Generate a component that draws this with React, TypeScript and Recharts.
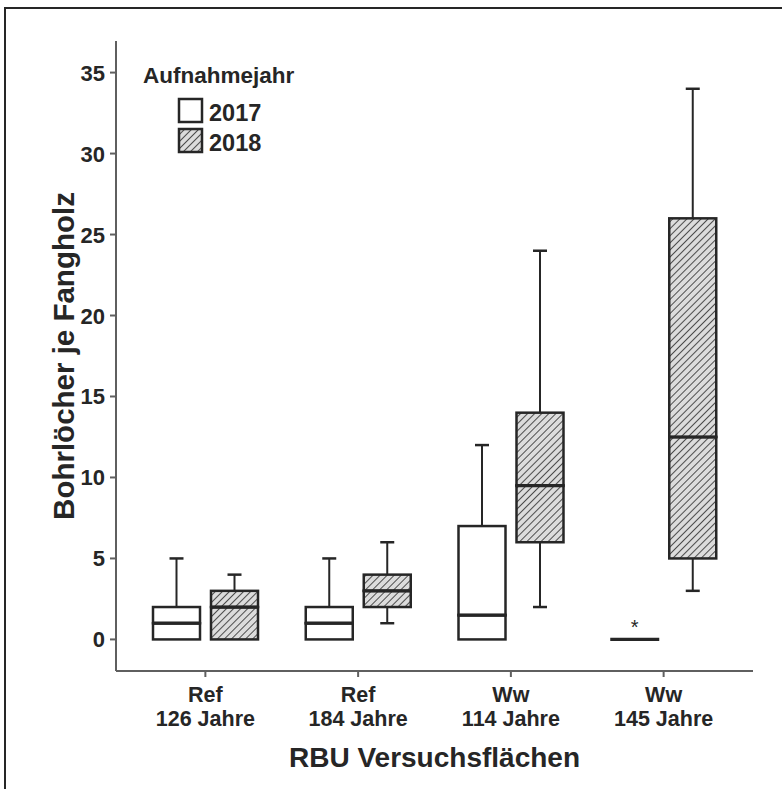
import { Bar, ComposedChart, Legend, XAxis, YAxis } from 'recharts';

// Bohrlöcher je Fangholz, Boxplots nach Versuchsfläche und Aufnahmejahr
const siteNames = ['Ref', 'Ref', 'Ww', 'Ww'];
const siteAges = ['126 Jahre', '184 Jahre', '114 Jahre', '145 Jahre'];

const min2017 = [0, 0, 0, 0];
const q1_2017 = [0, 0, 0, 0];
const med2017 = [1, 1, 1.5, 0];
const q3_2017 = [2, 2, 7, 0];
const max2017 = [5, 5, 12, 0];
const outlier2017 = [null, null, null, 1];

const min2018 = [0, 1, 2, 3];
const q1_2018 = [0, 2, 6, 5];
const med2018 = [2, 3, 9.5, 12.5];
const q3_2018 = [3, 4, 14, 26];
const max2018 = [4, 6, 24, 34];

const yTicks = [0, 5, 10, 15, 20, 25, 30, 35];
const legendYears = ['2017', '2018'];

const INK = '#262626';
const FRAME = '#5f5f5f';
const FONT = '"Liberation Sans", Arial, sans-serif';

// stacked segments: base (min) -> lower whisker -> lower box -> upper box -> upper whisker -> gap to outlier
const data = siteNames.map((name, i) => ({
  site: `${name} ${siteAges[i]}`,
  a_base: min2017[i],
  a_w1: q1_2017[i] - min2017[i],
  a_b1: med2017[i] - q1_2017[i],
  a_b2: q3_2017[i] - med2017[i],
  a_w2: max2017[i] - q3_2017[i],
  a_gap: outlier2017[i] != null ? (outlier2017[i] as number) - max2017[i] : 0,
  a_out: outlier2017[i],
  b_base: min2018[i],
  b_w1: q1_2018[i] - min2018[i],
  b_b1: med2018[i] - q1_2018[i],
  b_b2: q3_2018[i] - med2018[i],
  b_w2: max2018[i] - q3_2018[i],
}));

const whisker = (cap: 'top' | 'bottom') => (props: any) => {
  const { x, y, width, height } = props;
  if (!height || height <= 0) return <g />;
  const cx = x + width / 2;
  const capY = cap === 'top' ? y : y + height;
  return (
    <g>
      <line x1={cx} x2={cx} y1={y} y2={y + height} stroke={INK} strokeWidth={2} />
      <line x1={cx - 7} x2={cx + 7} y1={capY} y2={capY} stroke={INK} strokeWidth={2.5} />
    </g>
  );
};

// upper box half carries the median line on its bottom edge
const boxPart = (fill: string, withMedian: boolean) => (props: any) => {
  const { x, y, width, height } = props;
  const h = height > 0 ? height : 0;
  return (
    <g>
      {h > 0 && <rect x={x} y={y} width={width} height={h} fill={fill} stroke={INK} strokeWidth={2.5} />}
      {withMedian && (
        <line x1={x - 1} x2={x + width + 1} y1={y + h} y2={y + h} stroke={INK} strokeWidth={3.2} />
      )}
    </g>
  );
};

const outlierStar = (props: any) => {
  const { x, y, width, payload } = props;
  if (payload?.a_out == null) return <g />;
  return (
    <text x={x + width / 2} y={y + 11} textAnchor="middle" fontSize={20} fontFamily={FONT} fill={INK}>
      *
    </text>
  );
};

const SiteTick = (props: any) => {
  const { x, y, payload } = props;
  const i = payload.index;
  return (
    <g>
      <text x={x} y={y + 23} textAnchor="middle" fontSize={21.5} fontWeight="bold" fontFamily={FONT} fill={INK}>
        {siteNames[i]}
      </text>
      <text x={x} y={y + 47} textAnchor="middle" fontSize={21.5} fontWeight="bold" fontFamily={FONT} fill={INK}>
        {siteAges[i]}
      </text>
    </g>
  );
};

const ValueTick = (props: any) => {
  const { x, y, payload } = props;
  return (
    <text x={x} y={y + 8} textAnchor="end" fontSize={22} fontWeight="bold" fontFamily={FONT} fill={INK}>
      {payload.value}
    </text>
  );
};

const HatchPattern = ({ id }: { id: string }) => (
  <pattern id={id} width={5} height={5} patternUnits="userSpaceOnUse" patternTransform="rotate(45)">
    <rect width={5} height={5} fill="#dcdcdc" />
    <line x1={0} y1={0} x2={0} y2={5} stroke="#333333" strokeWidth={1.7} />
  </pattern>
);

const YearLegend = () => (
  <svg width={220} height={100} style={{ display: 'block' }}>
    <defs>
      <HatchPattern id="hatchLegend" />
    </defs>
    <text x={3} y={23} fontSize={22.5} fontWeight="bold" fontFamily={FONT} fill={INK}>
      Aufnahmejahr
    </text>
    {legendYears.map((yr, i) => (
      <g key={yr}>
        <rect
          x={39}
          y={39 + i * 30}
          width={23}
          height={23}
          fill={i === 0 ? '#ffffff' : 'url(#hatchLegend)'}
          stroke={INK}
          strokeWidth={2.5}
        />
        <text x={69} y={61 + i * 30} fontSize={23.5} fontWeight="bold" fontFamily={FONT} fill={INK}>
          {yr}
        </text>
      </g>
    ))}
  </svg>
);

export default function App() {
  return (
    <div style={{ position: 'absolute', left: 0, top: 0, width: 782, height: 789, background: '#fff' }}>
      <div
        style={{
          position: 'absolute',
          left: 4,
          top: 7,
          right: 0,
          bottom: 0,
          borderLeft: `2px solid ${INK}`,
          borderTop: `2px solid ${INK}`,
        }}
      />
      <ComposedChart
        width={782}
        height={789}
        data={data}
        margin={{ top: 41, right: 29, left: 56, bottom: 58 }}
        barGap={11}
        barSize={47}
      >
        <defs>
          <HatchPattern id="hatch" />
        </defs>
        <XAxis
          dataKey="site"
          type="category"
          height={60}
          padding={{ left: 13, right: 13 }}
          tick={<SiteTick />}
          tickSize={6}
          tickMargin={2}
          interval={0}
          axisLine={{ stroke: FRAME, strokeWidth: 2 }}
          tickLine={{ stroke: FRAME, strokeWidth: 2 }}
          label={(p: any) => {
            const vb = p.viewBox;
            return (
              <text
                x={vb.x + vb.width / 2}
                y={767}
                textAnchor="middle"
                fontSize={28}
                fontWeight="bold"
                fontFamily={FONT}
                fill={INK}
              >
                RBU Versuchsflächen
              </text>
            );
          }}
        />
        <XAxis xAxisId="top" dataKey="site" orientation="top" height={0} tick={false} tickLine={false} axisLine={{ stroke: FRAME, strokeWidth: 2 }} />
        <YAxis
          width={60}
          type="number"
          domain={[-1.95, 36.95]}
          allowDataOverflow
          ticks={yTicks}
          tickSize={6}
          tickMargin={5}
          tick={<ValueTick />}
          axisLine={{ stroke: FRAME, strokeWidth: 2 }}
          tickLine={{ stroke: FRAME, strokeWidth: 2 }}
          label={(p: any) => {
            const vb = p.viewBox;
            const cx = 74;
            const cy = vb.y + vb.height / 2;
            return (
              <text
                x={cx}
                y={cy}
                transform={`rotate(-90, ${cx}, ${cy})`}
                textAnchor="middle"
                fontSize={29.5}
                fontWeight="bold"
                fontFamily={FONT}
                fill={INK}
              >
                Bohrlöcher je Fangholz
              </text>
            );
          }}
        />
        <YAxis yAxisId="right" orientation="right" width={0} tick={false} tickLine={false} axisLine={{ stroke: FRAME, strokeWidth: 2 }} />

        <Bar dataKey="a_base" stackId="a" fill="none" isAnimationActive={false} shape={() => <g />} />
        <Bar dataKey="a_w1" stackId="a" isAnimationActive={false} shape={whisker('bottom')} />
        <Bar dataKey="a_b1" stackId="a" isAnimationActive={false} shape={boxPart('#ffffff', false)} />
        <Bar dataKey="a_b2" stackId="a" isAnimationActive={false} shape={boxPart('#ffffff', true)} />
        <Bar dataKey="a_w2" stackId="a" isAnimationActive={false} shape={whisker('top')} />
        <Bar dataKey="a_gap" stackId="a" isAnimationActive={false} shape={outlierStar} />

        <Bar dataKey="b_base" stackId="b" fill="none" isAnimationActive={false} shape={() => <g />} />
        <Bar dataKey="b_w1" stackId="b" isAnimationActive={false} shape={whisker('bottom')} />
        <Bar dataKey="b_b1" stackId="b" isAnimationActive={false} shape={boxPart('url(#hatch)', false)} />
        <Bar dataKey="b_b2" stackId="b" isAnimationActive={false} shape={boxPart('url(#hatch)', true)} />
        <Bar dataKey="b_w2" stackId="b" isAnimationActive={false} shape={whisker('top')} />

        <Legend
          layout="vertical"
          align="center"
          verticalAlign="middle"
          wrapperStyle={{ left: 140, top: 60, width: 220 }}
          content={<YearLegend />}
        />
      </ComposedChart>
    </div>
  );
}
